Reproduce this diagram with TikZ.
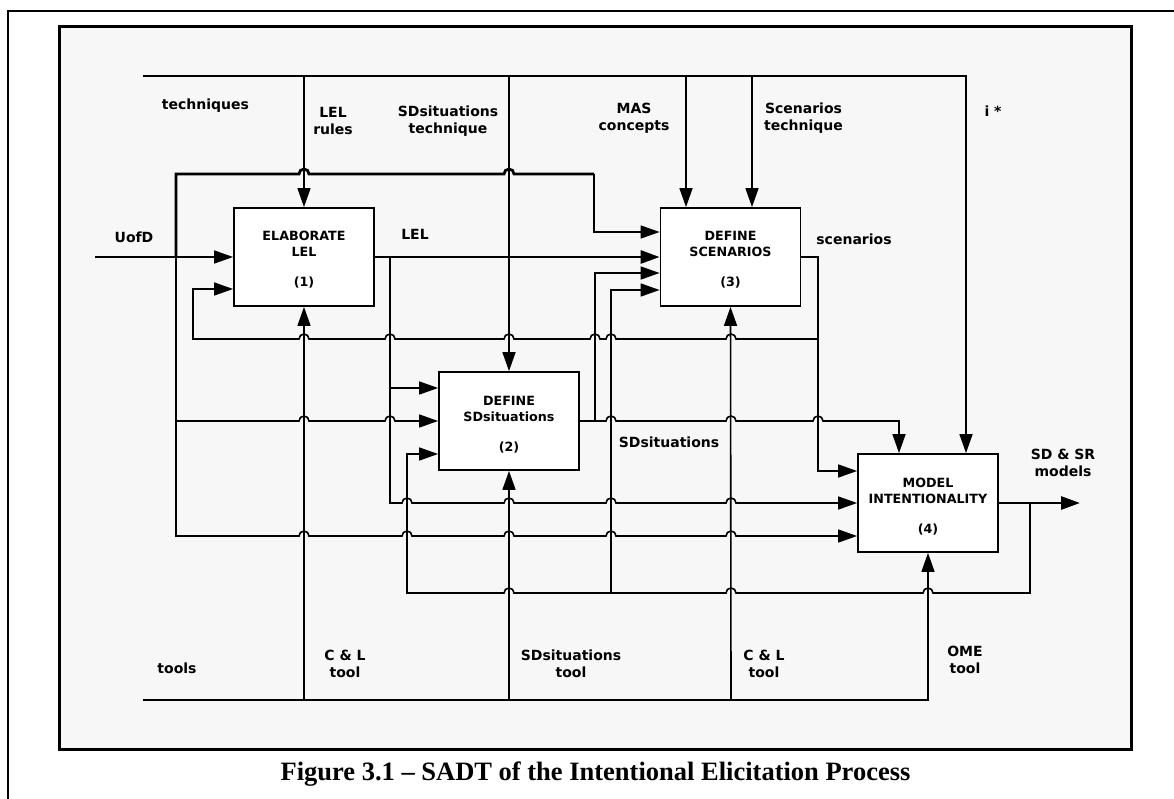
\documentclass[tikz,border=0pt]{standalone}
\usepackage{fontspec}
\setmainfont{DejaVu Sans}
\newfontfamily\capfont{Liberation Serif}
\usetikzlibrary{arrows.meta}
\definecolor{panel}{HTML}{F7F7F7}
\newcommand{\twol}[2]{\begin{tabular}[t]{@{}c@{}}#1\\#2\end{tabular}}
\newcommand{\boxtxt}[3]{\begin{tabular}[t]{@{}c@{}}#1\\#2\\[14pt]#3\end{tabular}}
\begin{document}
\begin{tikzpicture}[x=1pt,y=-1pt,
  ln/.style={line width=1.6pt},
  thk/.style={line width=2.8pt},
  arr/.style={-{Triangle[length=19pt,width=13pt]}},
  proc/.style={draw,line width=1.8pt,fill=white,minimum width=140pt,minimum height=98pt,
    inner sep=0pt,text height=10pt,text depth=42pt,font=\fontsize{12.7}{16}\selectfont\bfseries},
  lab/.style={anchor=base,inner sep=0pt,font=\fontsize{14}{17}\selectfont\bfseries},
]
\useasboundingbox (0,0) rectangle (1174,799);
% frames
\draw[line width=1.1pt] (8,799) -- (8,11) -- (1174,11);
\draw[line width=3pt,fill=panel] (59,27) rectangle (1131,749);

% boxes
\node[proc] (b1) at (304,257) {\boxtxt{ELABORATE}{LEL}{(1)}};
\node[proc] (b3) at (730.5,257) {\boxtxt{DEFINE}{SCENARIOS}{(3)}};
\node[proc] (b2) at (509,421) {\boxtxt{DEFINE}{SDsituations}{(2)}};
\node[proc] (b4) at (928,503) {\boxtxt{MODEL}{INTENTIONALITY}{(4)}};

% free ends and junctions
\coordinate (techS) at (143,76);
\coordinate (toolS) at (143,700);
\coordinate (uofdS) at (95,257);
\coordinate (outE) at (1080,503);
\coordinate (jU) at (176,257);
\coordinate (jL) at (390,257);
\coordinate (jS) at (818,339);
\coordinate (j2) at (595,421);
\coordinate (j4) at (1030,503);
\coordinate (jF) at (611,593);

% controls (top)
\draw[ln,arr] (techS) -- (966,76) -- (966,0 |- b4.north);
\draw[ln,arr] (304,76) -- (b1.north);
\draw[ln,arr] (509,76) -- (b2.north);
\draw[ln,arr] (686,76) -- (686,0 |- b3.north);
\draw[ln,arr] (752,76) -- (752,0 |- b3.north);

% mechanisms (bottom)
\draw[ln,arr] (toolS) -- (928,700) -- (b4.south);
\draw[ln,arr] (304,700) -- (b1.south);
\draw[ln,arr] (509,700) -- (b2.south);
\draw[ln,arr] (731,700) -- (b3.south);

% UofD
\draw[ln,arr] (uofdS) -- (b1.west);
\draw[thk] (jU) -- (176,174) -- (299,174) arc[start angle=180,end angle=0,radius=5pt]
  -- (504,174) arc[start angle=180,end angle=0,radius=5pt] -- (594,174);
\draw[ln,arr] (594,174) -- (594,232) -- (b3.west |- 0,232);
\draw[ln,arr] (jU) -- (176,421) -- (299,421) arc[start angle=180,end angle=0,radius=5pt]
  -- (385,421) arc[start angle=180,end angle=0,radius=5pt] -- (b2.west);
\draw[ln,arr] (176,421) -- (176,536) -- (299,536) arc[start angle=180,end angle=0,radius=5pt]
  -- (402,536) arc[start angle=180,end angle=0,radius=5pt]
  -- (504,536) arc[start angle=180,end angle=0,radius=5pt]
  -- (606,536) arc[start angle=180,end angle=0,radius=5pt]
  -- (726,536) arc[start angle=180,end angle=0,radius=5pt] -- (b4.west |- 0,536);

% LEL
\draw[thk,arr] (b1.east) -- (b3.west);
\draw[ln,arr] (jL) -- (390,388) -- (b2.west |- 0,388);
\draw[ln,arr] (390,388) -- (390,503) -- (402,503) arc[start angle=180,end angle=0,radius=5pt]
  -- (504,503) arc[start angle=180,end angle=0,radius=5pt]
  -- (606,503) arc[start angle=180,end angle=0,radius=5pt]
  -- (726,503) arc[start angle=180,end angle=0,radius=5pt] -- (b4.west);

% scenarios
\draw[ln,arr] (b3.east) -- (818,257) -- (818,471) -- (b4.west |- 0,471);
\draw[ln,arr] (jS) -- (736,339) arc[start angle=0,end angle=180,radius=5pt]
  -- (616,339) arc[start angle=0,end angle=180,radius=5pt]
  -- (600,339) arc[start angle=0,end angle=180,radius=5pt]
  -- (514,339) arc[start angle=0,end angle=180,radius=5pt]
  -- (395,339) arc[start angle=0,end angle=180,radius=5pt]
  -- (309,339) arc[start angle=0,end angle=180,radius=5pt]
  -- (193,339) -- (193,289) -- (b1.west |- 0,289);

% SDsituations
\draw[ln,arr] (b2.east) -- (606,421) arc[start angle=180,end angle=0,radius=5pt]
  -- (726,421) arc[start angle=180,end angle=0,radius=5pt]
  -- (813,421) arc[start angle=180,end angle=0,radius=5pt]
  -- (899,421) -- (899,0 |- b4.north);
\draw[ln,arr] (j2) -- (595,273) -- (b3.west |- 0,273);

% SD & SR models
\draw[thk,arr] (b4.east) -- (outE);
\draw[ln,arr] (j4) -- (1030,593) -- (933,593) arc[start angle=0,end angle=180,radius=5pt]
  -- (736,593) arc[start angle=0,end angle=180,radius=5pt]
  -- (514,593) arc[start angle=0,end angle=180,radius=5pt]
  -- (407,593) -- (407,454) -- (b2.west |- 0,454);
\draw[ln,arr] (jF) -- (611,290) -- (b3.west |- 0,290);

% labels
\node[lab] (lt) at (205.5,110) {techniques};
\node[lab] (lr) at (333,117.3) {\twol{LEL}{rules}};
\node[lab] (lst) at (448,116.7) {\twol{SDsituations}{technique}};
\node[lab] (lmas) at (634,113.3) {\twol{MAS}{concepts}};
\node[lab] (lsct) at (803.5,113.3) {\twol{Scenarios}{technique}};
\node[lab] (listar) at (993,116.7) {i *};
\node[lab] (lu) at (134,243) {UofD};
\node[lab] (llel) at (415,240) {LEL};
\node[lab] (lsc) at (854,245) {scenarios};
\node[lab] (lsd) at (669,447.3) {SDsituations};
\node[lab] (lmod) at (1063,459) {\twol{SD \& SR}{models}};
\node[lab] (ltools) at (177,673.3) {tools};
\node[lab] (lcl1) at (345,660.7) {\twol{C \& L}{tool}};
\node[lab] (lsdt) at (571,660.7) {\twol{SDsituations}{tool}};
\node[lab] (lcl2) at (764,660.7) {\twol{C \& L}{tool}};
\node[lab] (lome) at (965,656.7) {\twol{OME}{tool}};

% caption
\node[anchor=base,inner sep=0pt,font=\capfont\fontsize{26.5}{30}\selectfont\bfseries] (cap) at (595.5,780)
  {Figure 3.1 – SADT of the Intentional Elicitation Process};
\end{tikzpicture}
\end{document}
